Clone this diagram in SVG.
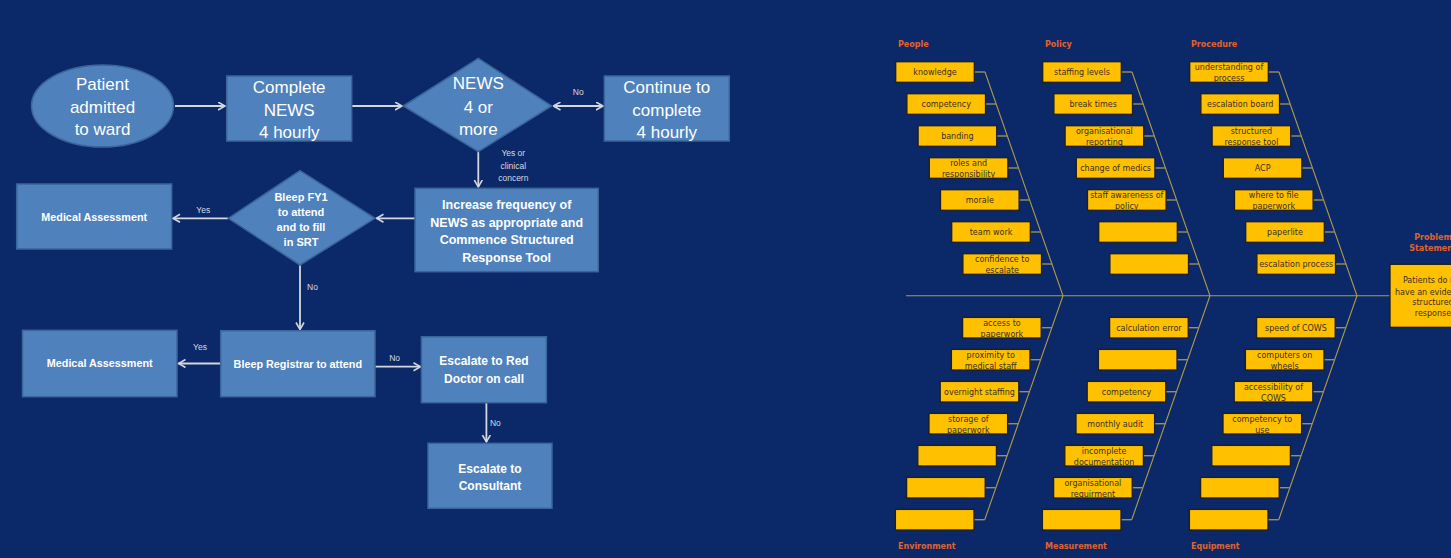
<svg xmlns="http://www.w3.org/2000/svg" width="1451" height="558" viewBox="0 0 1451 558">
<defs>
<style>
.fc{fill:#4F81BD;stroke:#3A6598;stroke-width:1.5}
.t17{font-family:"Liberation Sans",Arial,sans-serif;font-size:17px;fill:#FFFFFF;text-anchor:middle}
.tb{font-family:"Liberation Sans",Arial,sans-serif;font-weight:bold;fill:#FFFFFF;text-anchor:middle}
.lbl{font-family:"Liberation Sans",Arial,sans-serif;font-size:8.5px;fill:#D6DAE2;text-anchor:middle}
.arr{fill:none;stroke:#D3D7DE;stroke-width:1.8;marker-end:url(#ah)}
.fb{fill:#FFC000;stroke:#1E1E1E;stroke-width:1.3}
.ft{font-family:"DejaVu Sans",Verdana,sans-serif;font-size:8px;fill:#3A3020;text-anchor:middle}
.cat{font-family:"DejaVu Sans",Verdana,sans-serif;font-size:8px;font-weight:bold;fill:#E0632B}
.bone{fill:none;stroke:#B39A48;stroke-width:1.1}
.stub{fill:none;stroke:#9C8E5C;stroke-width:1.4}
</style>
<marker id="ah" markerWidth="9" markerHeight="10" refX="7.5" refY="4.5" orient="auto" markerUnits="userSpaceOnUse">
<path d="M0.5,0.5 L7.5,4.5 L0.5,8.5" fill="none" stroke="#D3D7DE" stroke-width="1.6"/>
</marker>
<marker id="ahs" markerWidth="9" markerHeight="10" refX="1" refY="4.5" orient="auto" markerUnits="userSpaceOnUse">
<path d="M7.5,0.5 L0.5,4.5 L7.5,8.5" fill="none" stroke="#D3D7DE" stroke-width="1.6"/>
</marker>
</defs>
<rect x="0" y="0" width="1451" height="558" fill="#0B2868"/>

<!-- ===== Flowchart connectors ===== -->
<g id="flow-connectors">
<line class="arr" x1="175" y1="106" x2="225" y2="106"/>
<line class="arr" x1="352" y1="106" x2="402" y2="106"/>
<line class="arr" x1="554" y1="106" x2="603" y2="106" marker-start="url(#ahs)"/>
<line class="arr" x1="478.3" y1="152" x2="478.3" y2="187"/>
<line class="arr" x1="415" y1="218.3" x2="376.5" y2="218.3"/>
<line class="arr" x1="228" y1="218.3" x2="173" y2="218.3"/>
<line class="arr" x1="300" y1="265" x2="300" y2="329.5"/>
<line class="arr" x1="220.7" y1="363.5" x2="178.5" y2="363.5"/>
<line class="arr" x1="375" y1="366.7" x2="420.5" y2="366.7"/>
<line class="arr" x1="486.4" y1="402.7" x2="486.4" y2="442"/>
<text class="lbl" x="578.3" y="94.7">No</text>
<text class="lbl" x="513.3" y="155.7">Yes or</text>
<text class="lbl" x="513.3" y="168.5">clinical</text>
<text class="lbl" x="513.3" y="181">concern</text>
<text class="lbl" x="203.3" y="213">Yes</text>
<text class="lbl" x="312.5" y="289.7">No</text>
<text class="lbl" x="200" y="349.7">Yes</text>
<text class="lbl" x="394.6" y="361.3">No</text>
<text class="lbl" x="495.4" y="426.3">No</text>
</g>

<!-- ===== Flowchart nodes ===== -->
<g id="n-patient">
<ellipse class="fc" cx="102.5" cy="106" rx="71" ry="41"/>
<text class="t17" x="102.5" y="90">Patient</text>
<text class="t17" x="102.5" y="112.7">admitted</text>
<text class="t17" x="102.5" y="135">to ward</text>
</g>
<g id="n-complete">
<rect class="fc" x="226.7" y="76" width="125" height="65"/>
<text class="t17" x="289.2" y="93.3">Complete</text>
<text class="t17" x="289.2" y="116">NEWS</text>
<text class="t17" x="289.2" y="137.7">4 hourly</text>
</g>
<g id="n-news">
<polygon class="fc" points="403.3,106 478.3,58.3 551.7,106 478.3,151.7"/>
<text class="t17" x="478.3" y="89.3">NEWS</text>
<text class="t17" x="478.3" y="112.7">4 or</text>
<text class="t17" x="478.3" y="135">more</text>
</g>
<g id="n-continue">
<rect class="fc" x="604.3" y="76" width="125" height="65"/>
<text class="t17" x="666.8" y="93">Continue to</text>
<text class="t17" x="666.8" y="116">complete</text>
<text class="t17" x="666.8" y="138">4 hourly</text>
</g>
<g id="n-increase">
<rect class="fc" x="415" y="188.3" width="183.3" height="83.4"/>
<text class="tb" font-size="12.5" x="506.7" y="209.4">Increase frequency of</text>
<text class="tb" font-size="12.5" x="506.7" y="227">NEWS as appropriate and</text>
<text class="tb" font-size="12.5" x="506.7" y="244.4">Commence Structured</text>
<text class="tb" font-size="12.5" x="506.7" y="261.6">Response Tool</text>
</g>
<g id="n-fy1">
<polygon class="fc" points="228.3,218.3 300,170.7 375,218.3 300,265"/>
<text class="tb" font-size="11" x="301" y="200.7">Bleep FY1</text>
<text class="tb" font-size="11" x="301" y="215.7">to attend</text>
<text class="tb" font-size="11" x="301" y="230.7">and to fill</text>
<text class="tb" font-size="11" x="301" y="245.7">in SRT</text>
</g>
<g id="n-med1">
<rect class="fc" x="16.7" y="184" width="155" height="65"/>
<text class="tb" font-size="10.8" x="94.2" y="220.5">Medical Assessment</text>
</g>
<g id="n-registrar">
<rect class="fc" x="220.7" y="330.7" width="154.3" height="66"/>
<text class="tb" font-size="10.8" x="297.8" y="367.8">Bleep Registrar to attend</text>
</g>
<g id="n-med2">
<rect class="fc" x="22.5" y="330.3" width="154.5" height="66.4"/>
<text class="tb" font-size="10.8" x="99.7" y="367">Medical Assessment</text>
</g>
<g id="n-red">
<rect class="fc" x="421.4" y="336.7" width="125" height="66"/>
<text class="tb" font-size="12" x="484" y="365">Escalate to Red</text>
<text class="tb" font-size="12" x="484" y="382.5">Doctor on call</text>
</g>
<g id="n-consultant">
<rect class="fc" x="428" y="443.3" width="124" height="65"/>
<text class="tb" font-size="12" x="490" y="472.5">Escalate to</text>
<text class="tb" font-size="12" x="490" y="489.5">Consultant</text>
</g>

<!-- ===== Fishbone skeleton ===== -->
<g id="fishbone-skeleton">
<line class="bone" x1="906" y1="295.8" x2="1390" y2="295.8"/>
<polyline class="bone" points="985,72 1063,295.8 984.7,519.7"/>
<polyline class="bone" points="1132,72 1210,295.8 1131.7,519.7"/>
<polyline class="bone" points="1279,72 1357,295.8 1278.7,519.7"/>
</g>

<!-- ===== Fishbone stubs (box to bone) ===== -->
<g id="fishbone-connectors">
<g id="stubs-c0">
<line class="stub" x1="974.3" y1="72" x2="985" y2="72"/>
<line class="stub" x1="985.5" y1="104" x2="996.2" y2="104"/>
<line class="stub" x1="996.7" y1="136" x2="1007.4" y2="136"/>
<line class="stub" x1="1007.9" y1="168" x2="1018.6" y2="168"/>
<line class="stub" x1="1019.1" y1="200" x2="1029.8" y2="200"/>
<line class="stub" x1="1030.3" y1="232" x2="1041" y2="232"/>
<line class="stub" x1="1041.5" y1="264" x2="1052.2" y2="264"/>
<line class="stub" x1="1041.2" y1="327.7" x2="1051.9" y2="327.7"/>
<line class="stub" x1="1030" y1="359.7" x2="1040.7" y2="359.7"/>
<line class="stub" x1="1018.8" y1="391.7" x2="1029.5" y2="391.7"/>
<line class="stub" x1="1007.6" y1="423.7" x2="1018.3" y2="423.7"/>
<line class="stub" x1="996.4" y1="455.7" x2="1007.1" y2="455.7"/>
<line class="stub" x1="985.2" y1="487.7" x2="995.9" y2="487.7"/>
<line class="stub" x1="974" y1="519.7" x2="984.7" y2="519.7"/>
</g>
<use href="#stubs-c0" transform="translate(147,0)"/>
<use href="#stubs-c0" transform="translate(294,0)"/>
</g>

<!-- ===== Category labels ===== -->
<g id="fishbone-labels">
<text class="cat" x="898" y="47">People</text>
<text class="cat" x="1045" y="47">Policy</text>
<text class="cat" x="1191" y="47">Procedure</text>
<text class="cat" x="898" y="549">Environment</text>
<text class="cat" x="1045" y="549">Measurement</text>
<text class="cat" x="1191" y="549">Equipment</text>
<text class="cat" x="1433" y="240" text-anchor="middle">Problem</text>
<text class="cat" x="1433" y="250.5" text-anchor="middle">Statement</text>
</g>

<!-- ===== People ===== -->
<g id="people">
<g id="p-knowledge"><rect class="fb" x="895.7" y="61.7" width="78.6" height="20.6"/><text class="ft" x="935" y="75">knowledge</text></g>
<g id="p-competency"><rect class="fb" x="906.9" y="93.7" width="78.6" height="20.6"/><text class="ft" x="946.2" y="107">competency</text></g>
<g id="p-banding"><rect class="fb" x="918.1" y="125.7" width="78.6" height="20.6"/><text class="ft" x="957.4" y="139">banding</text></g>
<g id="p-roles"><rect class="fb" x="929.3" y="157.7" width="78.6" height="20.6"/><text class="ft" x="968.6" y="166.3">roles and</text><text class="ft" x="968.6" y="177">responsibility</text></g>
<g id="p-morale"><rect class="fb" x="940.5" y="189.7" width="78.6" height="20.6"/><text class="ft" x="979.8" y="203">morale</text></g>
<g id="p-teamwork"><rect class="fb" x="951.7" y="221.7" width="78.6" height="20.6"/><text class="ft" x="991" y="235">team work</text></g>
<g id="p-confidence"><rect class="fb" x="962.9" y="253.7" width="78.6" height="20.6"/><text class="ft" x="1002.2" y="262.3">confidence to</text><text class="ft" x="1002.2" y="273">escalate</text></g>
</g>

<!-- ===== Policy ===== -->
<g id="policy">
<g id="po-staffing"><rect class="fb" x="1042.7" y="61.7" width="78.6" height="20.6"/><text class="ft" x="1082" y="75">staffing levels</text></g>
<g id="po-break"><rect class="fb" x="1053.9" y="93.7" width="78.6" height="20.6"/><text class="ft" x="1093.2" y="107">break times</text></g>
<g id="po-orgrep"><rect class="fb" x="1065.1" y="125.7" width="78.6" height="20.6"/><text class="ft" x="1104.4" y="134.3">organisational</text><text class="ft" x="1104.4" y="145">reporting</text></g>
<g id="po-medics"><rect class="fb" x="1076.3" y="157.7" width="78.6" height="20.6"/><text class="ft" x="1115.6" y="171">change of medics</text></g>
<g id="po-awareness"><rect class="fb" x="1087.5" y="189.7" width="78.6" height="20.6"/><text class="ft" x="1126.8" y="198.3">staff awareness of</text><text class="ft" x="1126.8" y="209">policy</text></g>
<g id="po-empty1"><rect class="fb" x="1098.7" y="221.7" width="78.6" height="20.6"/></g>
<g id="po-empty2"><rect class="fb" x="1109.9" y="253.7" width="78.6" height="20.6"/></g>
</g>

<!-- ===== Procedure ===== -->
<g id="procedure">
<g id="pr-understanding"><rect class="fb" x="1189.7" y="61.7" width="78.6" height="20.6"/><text class="ft" x="1229" y="70.3">understanding of</text><text class="ft" x="1229" y="81">process</text></g>
<g id="pr-board"><rect class="fb" x="1200.9" y="93.7" width="78.6" height="20.6"/><text class="ft" x="1240.2" y="107">escalation board</text></g>
<g id="pr-srt"><rect class="fb" x="1212.1" y="125.7" width="78.6" height="20.6"/><text class="ft" x="1251.4" y="134.3">structured</text><text class="ft" x="1251.4" y="145">response tool</text></g>
<g id="pr-acp"><rect class="fb" x="1223.3" y="157.7" width="78.6" height="20.6"/><text class="ft" x="1262.6" y="171">ACP</text></g>
<g id="pr-file"><rect class="fb" x="1234.5" y="189.7" width="78.6" height="20.6"/><text class="ft" x="1273.8" y="198.3">where to file</text><text class="ft" x="1273.8" y="209">paperwork</text></g>
<g id="pr-paperlite"><rect class="fb" x="1245.7" y="221.7" width="78.6" height="20.6"/><text class="ft" x="1285" y="235">paperlite</text></g>
<g id="pr-process"><rect class="fb" x="1256.9" y="253.7" width="78.6" height="20.6"/><text class="ft" x="1296.2" y="267">escalation process</text></g>
</g>

<!-- ===== Environment ===== -->
<g id="environment">
<g id="en-access"><rect class="fb" x="962.6" y="317.4" width="78.6" height="20.6"/><text class="ft" x="1001.9" y="326">access to</text><text class="ft" x="1001.9" y="336.7">paperwork</text></g>
<g id="en-proximity"><rect class="fb" x="951.4" y="349.4" width="78.6" height="20.6"/><text class="ft" x="990.7" y="358">proximity to</text><text class="ft" x="990.7" y="368.7">medical staff</text></g>
<g id="en-overnight"><rect class="fb" x="940.2" y="381.4" width="78.6" height="20.6"/><text class="ft" x="979.5" y="394.7">overnight staffing</text></g>
<g id="en-storage"><rect class="fb" x="929" y="413.4" width="78.6" height="20.6"/><text class="ft" x="968.3" y="422">storage of</text><text class="ft" x="968.3" y="432.7">paperwork</text></g>
<g id="en-empty1"><rect class="fb" x="917.8" y="445.4" width="78.6" height="20.6"/></g>
<g id="en-empty2"><rect class="fb" x="906.6" y="477.4" width="78.6" height="20.6"/></g>
<g id="en-empty3"><rect class="fb" x="895.4" y="509.4" width="78.6" height="20.6"/></g>
</g>

<!-- ===== Measurement ===== -->
<g id="measurement">
<g id="me-calc"><rect class="fb" x="1109.6" y="317.4" width="78.6" height="20.6"/><text class="ft" x="1148.9" y="330.7">calculation error</text></g>
<g id="me-empty1"><rect class="fb" x="1098.4" y="349.4" width="78.6" height="20.6"/></g>
<g id="me-competency"><rect class="fb" x="1087.2" y="381.4" width="78.6" height="20.6"/><text class="ft" x="1126.5" y="394.7">competency</text></g>
<g id="me-audit"><rect class="fb" x="1076" y="413.4" width="78.6" height="20.6"/><text class="ft" x="1115.3" y="426.7">monthly audit</text></g>
<g id="me-incomplete"><rect class="fb" x="1064.8" y="445.4" width="78.6" height="20.6"/><text class="ft" x="1104.1" y="454">incomplete</text><text class="ft" x="1104.1" y="464.7">documentation</text></g>
<g id="me-orgreq"><rect class="fb" x="1053.6" y="477.4" width="78.6" height="20.6"/><text class="ft" x="1092.9" y="486">organisational</text><text class="ft" x="1092.9" y="496.7">requirment</text></g>
<g id="me-empty2"><rect class="fb" x="1042.4" y="509.4" width="78.6" height="20.6"/></g>
</g>

<!-- ===== Equipment ===== -->
<g id="equipment">
<g id="eq-speed"><rect class="fb" x="1256.6" y="317.4" width="78.6" height="20.6"/><text class="ft" x="1295.9" y="330.7">speed of COWS</text></g>
<g id="eq-cow"><rect class="fb" x="1245.4" y="349.4" width="78.6" height="20.6"/><text class="ft" x="1284.7" y="358">computers on</text><text class="ft" x="1284.7" y="368.7">wheels</text></g>
<g id="eq-access"><rect class="fb" x="1234.2" y="381.4" width="78.6" height="20.6"/><text class="ft" x="1273.5" y="390">accessibility of</text><text class="ft" x="1273.5" y="400.7">COWS</text></g>
<g id="eq-competency"><rect class="fb" x="1223" y="413.4" width="78.6" height="20.6"/><text class="ft" x="1262.3" y="422">competency to</text><text class="ft" x="1262.3" y="432.7">use</text></g>
<g id="eq-empty1"><rect class="fb" x="1211.8" y="445.4" width="78.6" height="20.6"/></g>
<g id="eq-empty2"><rect class="fb" x="1200.6" y="477.4" width="78.6" height="20.6"/></g>
<g id="eq-empty3"><rect class="fb" x="1189.4" y="509.4" width="78.6" height="20.6"/></g>
</g>

<!-- ===== Problem statement ===== -->
<g id="problem">
<rect class="fb" x="1390" y="264.3" width="86" height="63" stroke-width="1.5"/>
<text class="ft" x="1433" y="283">Patients do not</text>
<text class="ft" x="1433" y="294.5">have an evidenced</text>
<text class="ft" x="1433" y="305">structured</text>
<text class="ft" x="1433" y="315.5">response</text>
</g>
</svg>
